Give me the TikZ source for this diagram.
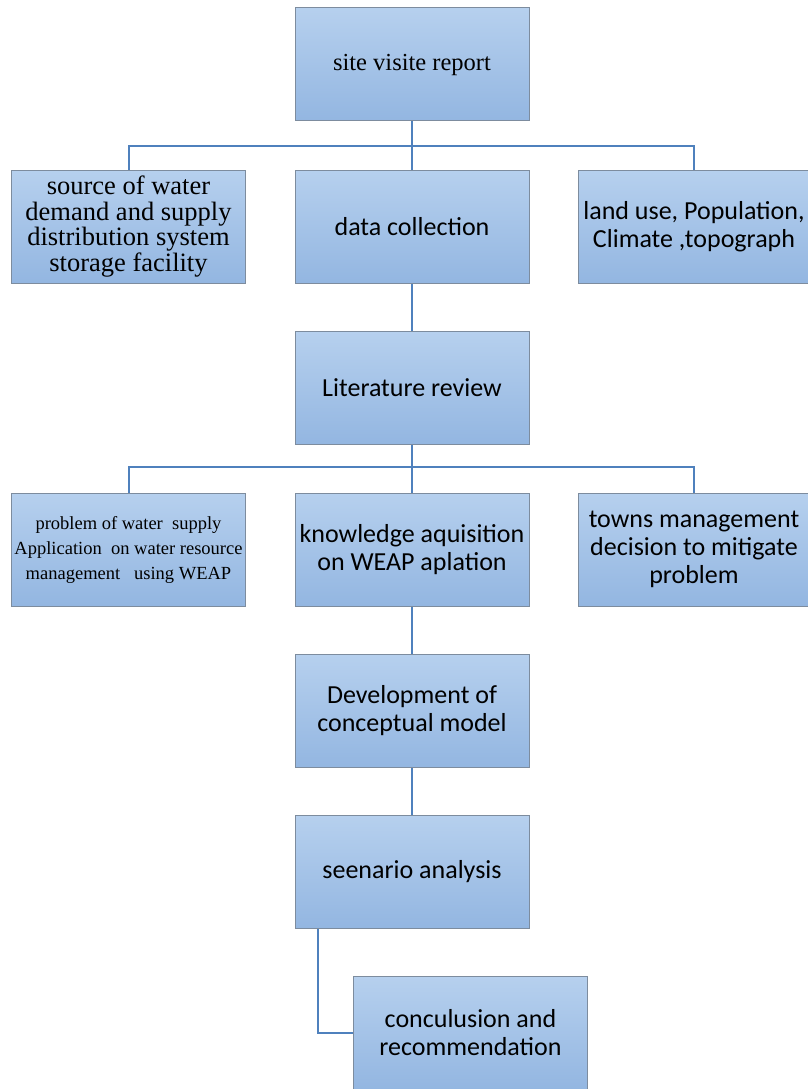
\documentclass[tikz,border=0pt]{standalone}
\usepackage{fontspec}
\setmainfont{Liberation Serif}
\newfontfamily\calib{Carlito}
\usetikzlibrary{positioning}

\definecolor{boxtop}{HTML}{B6D0EE}
\definecolor{boxbot}{HTML}{93B6E1}
\definecolor{boxline}{HTML}{7D8C9E}
\definecolor{linkblue}{HTML}{4F81BD}

\begin{document}
\begin{tikzpicture}[x=1pt, y=1pt,
    box/.style={draw=boxline, line width=1pt, top color=boxtop, bottom color=boxbot,
        minimum width=234pt, minimum height=113pt, inner sep=2pt, align=center},
    sans/.style={font=\calib\fontsize{26}{28}\selectfont},
    serif/.style={font=\fontsize{24.5}{25}\selectfont},
    link/.style={draw=linkblue, line width=2pt}]

    % ── Frame ────────────────────────────────────────────────────────────────
    \clip (0,0) rectangle (808,-1089);
    \useasboundingbox (0,0) rectangle (808,-1089);

    % ── Boxes ────────────────────────────────────────────────────────────────
    \node[box, serif] (site) at (412,-64.5) {site visite report};

    \node[box, font=\fontsize{26.5}{25.5}\selectfont] (source) at (128.5,-226.5)
        {source of water\\demand and supply\\distribution system\\storage facility};
    \node[box, sans] (data) at (412,-226.5) {data collection};
    \node[box, sans, minimum width=232pt] (land) at (694,-226.5)
        {land use, Population,\\Climate ,topograph};

    \node[box, sans] (lit) at (412,-388) {Literature review};

    \node[box, font=\fontsize{18.5}{25}\selectfont] (problem) at (128.5,-549.5)
        {problem of water\ \ supply\\Application\ \ on water resource\\management\ \ \ using WEAP};
    \node[box, sans] (know) at (412,-549.5) {knowledge aquisition\\on WEAP aplation};
    \node[box, sans, minimum width=232pt] (towns) at (694,-549.5)
        {towns management\\decision to mitigate\\problem};

    \node[box, sans] (model) at (412,-711) {Development of\\conceptual model};

    \node[box, sans] (scen) at (412,-872) {seenario analysis};

    \node[box, sans] (concl) at (470.5,-1033) {conculusion and\\recommendation};

    % ── Connectors ───────────────────────────────────────────────────────────
    \coordinate (bar1) at (412,-146);
    \coordinate (bar2) at (412,-467);

    \draw[link] (site.south) -- (data.north);
    \draw[link] (source.north) |- (bar1) -| (land.north);

    \draw[link] (data.south) -- (lit.north);

    \draw[link] (lit.south) -- (know.north);
    \draw[link] (problem.north) |- (bar2) -| (towns.north);

    \draw[link] (know.south) -- (model.north);
    \draw[link] (model.south) -- (scen.north);

    \draw[link] ([xshift=-94pt]scen.south) |- (concl.west);

\end{tikzpicture}
\end{document}
